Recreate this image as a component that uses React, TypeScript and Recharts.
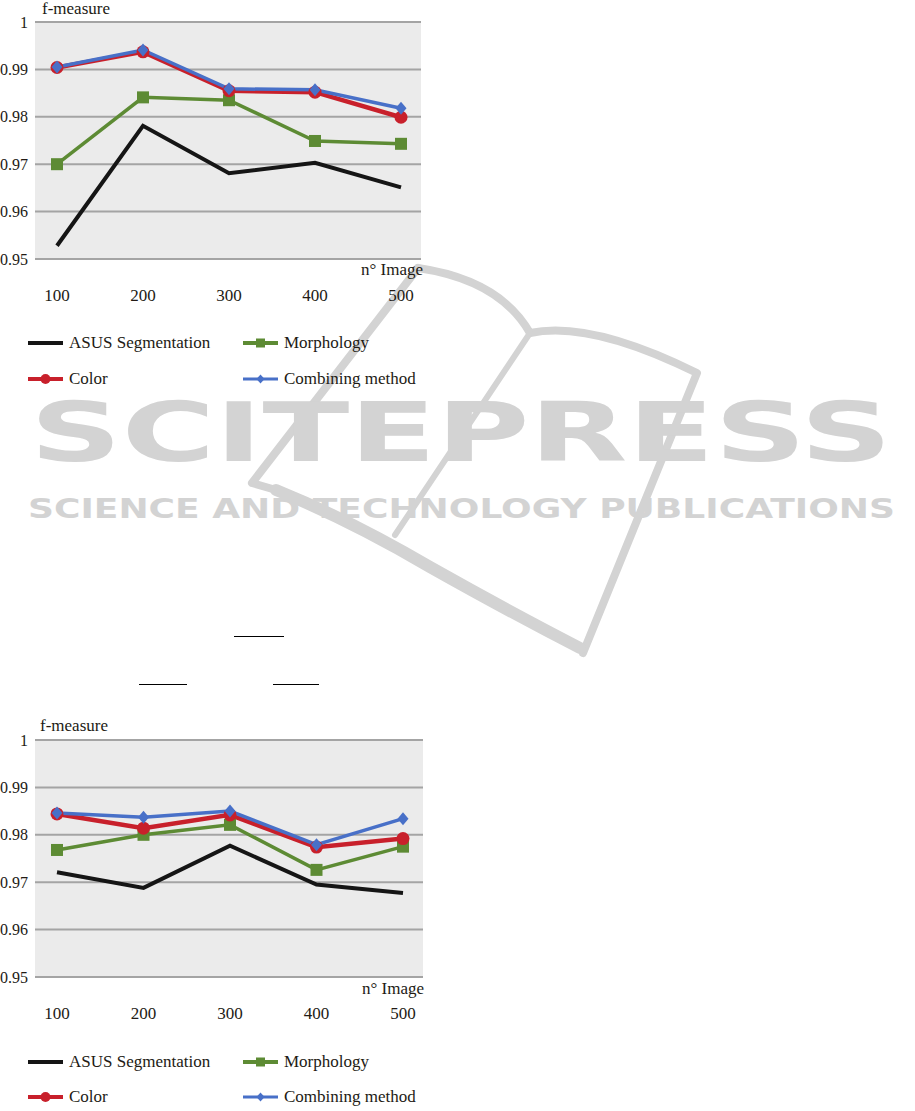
import React from 'react';
import { LineChart, Line, XAxis, YAxis, CartesianGrid } from 'recharts';

// ---------- data ----------
const categories = ['100', '200', '300', '400', '500'];
const yTicks = [0.95, 0.96, 0.97, 0.98, 0.99, 1];

// chart 1
const asus1 = [0.9528, 0.9781, 0.9681, 0.9703, 0.9651];
const morph1 = [0.97, 0.9841, 0.9835, 0.9749, 0.9743];
const color1 = [0.9904, 0.9937, 0.9855, 0.9852, 0.9799];
const comb1 = [0.9905, 0.9941, 0.9859, 0.9857, 0.9818];

// chart 2
const asus2 = [0.9721, 0.9688, 0.9777, 0.9695, 0.9677];
const morph2 = [0.9768, 0.98, 0.9821, 0.9726, 0.9775];
const color2 = [0.9844, 0.9814, 0.9842, 0.9774, 0.9792];
const comb2 = [0.9846, 0.9837, 0.985, 0.9779, 0.9834];

const seriesNames = ['ASUS Segmentation', 'Morphology', 'Color', 'Combining method'];
const yLabel = 'f-measure';
const xLabel = 'n° Image';

// ---------- styles ----------
const SERIF = '"Liberation Serif", "Times New Roman", serif';
const TEXT = '#221a14';
const BLACK = '#151515';
const GREEN = '#5d8b34';
const RED = '#c8202b';
const BLUE = '#4870c8';
const FS = 17;

const build = (a: number[], m: number[], c: number[], k: number[]) =>
  categories.map((cat, i) => ({ cat, asus: a[i], morph: m[i], color: c[i], comb: k[i] }));

const data1 = build(asus1, morph1, color1, comb1);
const data2 = build(asus2, morph2, color2, comb2);

const squareDot = (fill: string, s: number) => (p: any) => (
  <rect key={`sq-${p.index}`} x={p.cx - s / 2} y={p.cy - s / 2} width={s} height={s} fill={fill} />
);
const circleDot = (fill: string, r: number) => (p: any) => (
  <circle key={`ci-${p.index}`} cx={p.cx} cy={p.cy} r={r} fill={fill} />
);
const diamondDot = (fill: string, w: number, h: number) => (p: any) => (
  <polygon
    key={`di-${p.index}`}
    points={`${p.cx},${p.cy - h} ${p.cx + w},${p.cy} ${p.cx},${p.cy + h} ${p.cx - w},${p.cy}`}
    fill={fill}
  />
);

const xTickStyle = { fill: TEXT, fontSize: FS, fontFamily: SERIF };
const yTickStyle = { fill: TEXT, fontSize: 16, fontFamily: SERIF };

function FChart({ top, width, data }: { top: number; width: number; data: any[] }) {
  return (
    <div style={{ position: 'absolute', left: 0, top, width, height: 310 }}>
      <LineChart width={width} height={310} data={data} margin={{ top: 22, right: 19, bottom: 0, left: 0 }}>
        <CartesianGrid vertical={false} fill="#ebebeb" stroke="#a4a4a4" strokeWidth={2} />
        <XAxis
          dataKey="cat"
          height={51}
          padding={{ left: 22, right: 20 }}
          axisLine={false}
          tickLine={false}
          tickSize={28}
          tick={xTickStyle}
          interval={0}
        />
        <YAxis
          width={35}
          domain={[0.95, 1]}
          ticks={yTicks}
          axisLine={false}
          tickLine={false}
          tickSize={5}
          tick={yTickStyle}
          interval={0}
        />
        <Line type="linear" dataKey="asus" stroke={BLACK} strokeWidth={4} dot={false} activeDot={false} isAnimationActive={false} />
        <Line type="linear" dataKey="morph" stroke={GREEN} strokeWidth={3.5} dot={squareDot(GREEN, 12)} activeDot={false} isAnimationActive={false} />
        <Line type="linear" dataKey="color" stroke={RED} strokeWidth={4.5} dot={circleDot(RED, 6.5)} activeDot={false} isAnimationActive={false} />
        <Line type="linear" dataKey="comb" stroke={BLUE} strokeWidth={3.5} dot={diamondDot(BLUE, 5.5, 6.5)} activeDot={false} isAnimationActive={false} />
      </LineChart>
    </div>
  );
}

const legendSymbols = [
  { color: BLACK, width: 4, marker: 'none' },
  { color: GREEN, width: 4, marker: 'square' },
  { color: RED, width: 4, marker: 'circle' },
  { color: BLUE, width: 3, marker: 'diamond' },
];

function LegendSymbol({ i }: { i: number }) {
  const s = legendSymbols[i];
  return (
    <svg width={35} height={14} style={{ display: 'block' }}>
      <line x1={0} y1={7} x2={35} y2={7} stroke={s.color} strokeWidth={s.width} />
      {s.marker === 'square' && <rect x={13} y={2.5} width={9} height={9} fill={s.color} />}
      {s.marker === 'circle' && <circle cx={17.5} cy={7} r={5} fill={s.color} />}
      {s.marker === 'diamond' && <polygon points="17.5,2.5 21.5,7 17.5,11.5 13.5,7" fill={s.color} />}
    </svg>
  );
}

function ChartLegend({ row1, row2 }: { row1: number; row2: number }) {
  const pos = [
    { x: 28, y: row1 },
    { x: 243, y: row1 },
    { x: 28, y: row2 },
    { x: 243, y: row2 },
  ];
  return (
    <>
      {seriesNames.map((n, i) => (
        <div
          key={n}
          style={{
            position: 'absolute',
            left: pos[i].x,
            top: pos[i].y - 10,
            height: 20,
            display: 'flex',
            alignItems: 'center',
            fontFamily: SERIF,
            fontSize: FS,
            color: TEXT,
            whiteSpace: 'nowrap',
          }}
        >
          <LegendSymbol i={i} />
          <span style={{ marginLeft: 6, lineHeight: '20px' }}>{n}</span>
        </div>
      ))}
    </>
  );
}

const labelStyle: React.CSSProperties = {
  position: 'absolute',
  fontFamily: SERIF,
  fontSize: FS,
  lineHeight: '18px',
  color: TEXT,
  whiteSpace: 'nowrap',
};

function Watermark() {
  const g = '#d3d3d3';
  return (
    <svg width={915} height={1111} style={{ position: 'absolute', left: 0, top: 0 }}>
      <g fill="none" stroke={g} strokeWidth={8} strokeLinejoin="round" strokeLinecap="round">
        <path d="M 418 268 Q 500 280 530 333 Q 590 320 697 373 L 583 653" />
        <path d="M 418 268 L 252 483 L 276 490" />
        <path d="M 276 490 Q 350 520 430 567 Q 510 612 580 648" strokeWidth={12} />
        <path d="M 530 333 L 395 535" strokeWidth={6} />
      </g>
      <text
        x={30}
        y={461}
        textLength={862}
        lengthAdjust="spacingAndGlyphs"
        fontFamily='"DejaVu Sans", sans-serif'
        fontWeight="bold"
        fontSize={82}
        fill={g}
      >
        SCITEPRESS
      </text>
      <text
        x={28}
        y={518}
        textLength={867}
        lengthAdjust="spacingAndGlyphs"
        fontFamily='"DejaVu Sans", sans-serif'
        fontWeight="bold"
        fontSize={27}
        fill={g}
      >
        SCIENCE AND TECHNOLOGY PUBLICATIONS
      </text>
    </svg>
  );
}

export default function App() {
  return (
    <div style={{ position: 'absolute', left: 0, top: 0, width: 915, height: 1111, background: '#fff', overflow: 'hidden' }}>
      <Watermark />
      {/* stray underline fragments */}
      <div style={{ position: 'absolute', left: 234, top: 636, width: 50, height: 1, background: '#000' }} />
      <div style={{ position: 'absolute', left: 139, top: 684, width: 48, height: 1, background: '#000' }} />
      <div style={{ position: 'absolute', left: 273, top: 684, width: 46, height: 1, background: '#000' }} />

      <FChart top={0} width={440} data={data1} />
      <div style={{ ...labelStyle, left: 42, top: 0 }}>{yLabel}</div>
      <div style={{ ...labelStyle, right: 915 - 423, top: 261 }}>{xLabel}</div>
      <ChartLegend row1={343} row2={379} />

      <FChart top={718} width={442} data={data2} />
      <div style={{ ...labelStyle, left: 40, top: 717 }}>{yLabel}</div>
      <div style={{ ...labelStyle, right: 915 - 424, top: 980 }}>{xLabel}</div>
      <ChartLegend row1={1062} row2={1097} />
    </div>
  );
}
